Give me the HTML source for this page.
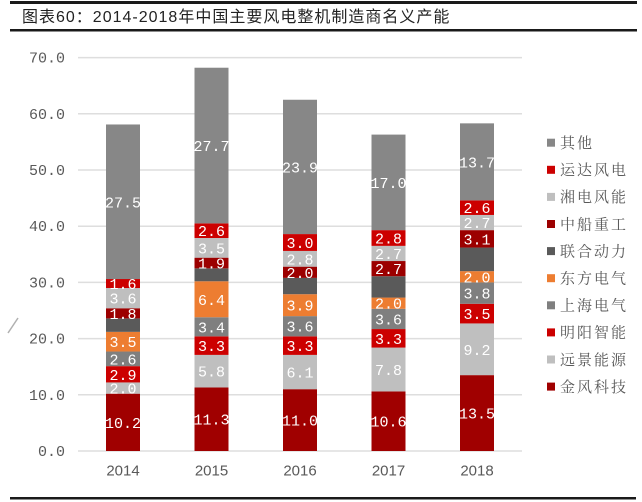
<!DOCTYPE html>
<html>
<head>
<meta charset="utf-8">
<style>
html,body{margin:0;padding:0;background:#fff;}
body{width:642px;height:502px;overflow:hidden;}
svg{display:block;}
.ttl{font-family:"Liberation Sans","Noto Sans CJK SC",sans-serif;font-size:16px;fill:#222;letter-spacing:1px;}
.yl{font-family:"Liberation Mono",monospace;font-size:15px;fill:#595959;}
.xl{font-family:"Liberation Sans",sans-serif;font-size:15px;fill:#595959;}
.lb{font-family:"Liberation Mono",monospace;font-size:15px;fill:#fff;}
.lg{font-family:"Liberation Sans","Noto Serif CJK SC",serif;font-size:15px;fill:#595959;letter-spacing:2px;}
</style>
</head>
<body>
<svg width="642" height="502" viewBox="0 0 642 502" xmlns="http://www.w3.org/2000/svg">
<!-- title -->
<rect x="10" y="1" width="627" height="3" fill="#1a1a1a"/>
<text class="ttl" x="22" y="22">图表60：2014-2018年中国主要风电整机制造商名义产能</text>
<rect x="10" y="29" width="627" height="2.5" fill="#1a1a1a"/>

<!-- gridlines -->
<g stroke="#dedede" stroke-width="1.5">
<line x1="78" y1="57.6" x2="522" y2="57.6"/>
<line x1="78" y1="113.8" x2="522" y2="113.8"/>
<line x1="78" y1="170" x2="522" y2="170"/>
<line x1="78" y1="226.2" x2="522" y2="226.2"/>
<line x1="78" y1="282.4" x2="522" y2="282.4"/>
<line x1="78" y1="338.6" x2="522" y2="338.6"/>
<line x1="78" y1="394.8" x2="522" y2="394.8"/>
<line x1="78" y1="451" x2="522" y2="451"/>
</g>

<!-- y labels -->
<g class="yl" text-anchor="end">
<text x="65" y="62.6">70.0</text>
<text x="65" y="118.8">60.0</text>
<text x="65" y="175">50.0</text>
<text x="65" y="231.2">40.0</text>
<text x="65" y="287.4">30.0</text>
<text x="65" y="343.6">20.0</text>
<text x="65" y="399.8">10.0</text>
<text x="65" y="456">0.0</text>
</g>

<!-- small mark -->
<line x1="8" y1="333" x2="18" y2="318" stroke="#b0b0b0" stroke-width="1.5"/>

<!-- 2014 -->
<g>
<rect x="106" y="393.68" width="34" height="57.32" fill="#a00000"/>
<rect x="106" y="382.44" width="34" height="11.24" fill="#bfbfbf"/>
<rect x="106" y="366.14" width="34" height="16.30" fill="#cc0000"/>
<rect x="106" y="351.53" width="34" height="14.61" fill="#7f7f7f"/>
<rect x="106" y="331.86" width="34" height="19.67" fill="#ed7d31"/>
<rect x="106" y="318.37" width="34" height="13.49" fill="#5a5a5a"/>
<rect x="106" y="308.25" width="34" height="10.12" fill="#9c0000"/>
<rect x="106" y="288.02" width="34" height="20.23" fill="#bfbfbf"/>
<rect x="106" y="279.03" width="34" height="8.99" fill="#cc0000"/>
<rect x="106" y="124.48" width="34" height="154.55" fill="#878787"/>
</g>
<!-- 2015 -->
<g>
<rect x="194.5" y="387.49" width="34" height="63.51" fill="#a00000"/>
<rect x="194.5" y="354.90" width="34" height="32.59" fill="#bfbfbf"/>
<rect x="194.5" y="336.35" width="34" height="18.55" fill="#cc0000"/>
<rect x="194.5" y="317.24" width="34" height="19.11" fill="#7f7f7f"/>
<rect x="194.5" y="281.28" width="34" height="35.96" fill="#ed7d31"/>
<rect x="194.5" y="268.35" width="34" height="12.93" fill="#5a5a5a"/>
<rect x="194.5" y="257.67" width="34" height="10.68" fill="#9c0000"/>
<rect x="194.5" y="238.00" width="34" height="19.67" fill="#bfbfbf"/>
<rect x="194.5" y="223.39" width="34" height="14.61" fill="#cc0000"/>
<rect x="194.5" y="67.72" width="34" height="155.67" fill="#878787"/>
</g>
<!-- 2016 -->
<g>
<rect x="283" y="389.18" width="34" height="61.82" fill="#a00000"/>
<rect x="283" y="354.90" width="34" height="34.28" fill="#bfbfbf"/>
<rect x="283" y="336.35" width="34" height="18.55" fill="#cc0000"/>
<rect x="283" y="316.12" width="34" height="20.23" fill="#7f7f7f"/>
<rect x="283" y="294.20" width="34" height="21.92" fill="#ed7d31"/>
<rect x="283" y="277.90" width="34" height="16.30" fill="#5a5a5a"/>
<rect x="283" y="266.66" width="34" height="11.24" fill="#9c0000"/>
<rect x="283" y="250.93" width="34" height="15.73" fill="#bfbfbf"/>
<rect x="283" y="234.07" width="34" height="16.86" fill="#cc0000"/>
<rect x="283" y="99.75" width="34" height="134.32" fill="#878787"/>
</g>
<!-- 2017 -->
<g>
<rect x="371.5" y="391.43" width="34" height="59.57" fill="#a00000"/>
<rect x="371.5" y="347.59" width="34" height="43.84" fill="#bfbfbf"/>
<rect x="371.5" y="329.05" width="34" height="18.54" fill="#cc0000"/>
<rect x="371.5" y="308.81" width="34" height="20.24" fill="#7f7f7f"/>
<rect x="371.5" y="297.57" width="34" height="11.24" fill="#ed7d31"/>
<rect x="371.5" y="276.22" width="34" height="21.35" fill="#5a5a5a"/>
<rect x="371.5" y="261.04" width="34" height="15.18" fill="#9c0000"/>
<rect x="371.5" y="245.87" width="34" height="15.17" fill="#bfbfbf"/>
<rect x="371.5" y="230.13" width="34" height="15.74" fill="#cc0000"/>
<rect x="371.5" y="134.59" width="34" height="95.54" fill="#878787"/>
</g>
<!-- 2018 -->
<g>
<rect x="460" y="375.13" width="34" height="75.87" fill="#a00000"/>
<rect x="460" y="323.43" width="34" height="51.70" fill="#bfbfbf"/>
<rect x="460" y="303.76" width="34" height="19.67" fill="#cc0000"/>
<rect x="460" y="282.40" width="34" height="21.36" fill="#7f7f7f"/>
<rect x="460" y="271.16" width="34" height="11.24" fill="#ed7d31"/>
<rect x="460" y="247.56" width="34" height="23.60" fill="#5a5a5a"/>
<rect x="460" y="230.13" width="34" height="17.43" fill="#9c0000"/>
<rect x="460" y="214.96" width="34" height="15.17" fill="#bfbfbf"/>
<rect x="460" y="200.35" width="34" height="14.61" fill="#cc0000"/>
<rect x="460" y="123.35" width="34" height="77.00" fill="#878787"/>
</g>

<!-- data labels -->
<g class="lb" text-anchor="middle">
<text x="123" y="427.8">10.2</text>
<text x="123" y="393.6">2.0</text>
<text x="123" y="379.8">2.9</text>
<text x="123" y="364.3">2.6</text>
<text x="123" y="347.2">3.5</text>
<text x="123" y="318.8">1.8</text>
<text x="123" y="303.6">3.6</text>
<text x="123" y="289">1.6</text>
<text x="123" y="207.3">27.5</text>

<text x="211.5" y="424.7">11.3</text>
<text x="211.5" y="376.7">5.8</text>
<text x="211.5" y="351.1">3.3</text>
<text x="211.5" y="332.3">3.4</text>
<text x="211.5" y="304.8">6.4</text>
<text x="211.5" y="268.5">1.9</text>
<text x="211.5" y="253.3">3.5</text>
<text x="211.5" y="236.2">2.6</text>
<text x="211.5" y="151.1">27.7</text>

<text x="300" y="425.6">11.0</text>
<text x="300" y="377.5">6.1</text>
<text x="300" y="351.1">3.3</text>
<text x="300" y="331.7">3.6</text>
<text x="300" y="310.7">3.9</text>
<text x="300" y="277.8">2.0</text>
<text x="300" y="264.3">2.8</text>
<text x="300" y="248">3.0</text>
<text x="300" y="172.4">23.9</text>

<text x="388.5" y="426.7">10.6</text>
<text x="388.5" y="375">7.8</text>
<text x="388.5" y="343.8">3.3</text>
<text x="388.5" y="324.4">3.6</text>
<text x="388.5" y="308.7">2.0</text>
<text x="388.5" y="274.1">2.7</text>
<text x="388.5" y="259">2.7</text>
<text x="388.5" y="243.5">2.8</text>
<text x="388.5" y="187.9">17.0</text>

<text x="477" y="418.6">13.5</text>
<text x="477" y="354.8">9.2</text>
<text x="477" y="319.1">3.5</text>
<text x="477" y="298.6">3.8</text>
<text x="477" y="282.3">2.0</text>
<text x="477" y="244.3">3.1</text>
<text x="477" y="228">2.7</text>
<text x="477" y="213.2">2.6</text>
<text x="477" y="167.4">13.7</text>
</g>

<!-- x labels -->
<g class="xl" text-anchor="middle">
<text x="123" y="475.5">2014</text>
<text x="211.5" y="475.5">2015</text>
<text x="300" y="475.5">2016</text>
<text x="388.5" y="475.5">2017</text>
<text x="477" y="475.5">2018</text>
</g>

<!-- legend -->
<g>
<rect x="547" y="138.7" width="8" height="8" fill="#878787"/>
<rect x="547" y="165.8" width="8" height="8" fill="#cc0000"/>
<rect x="547" y="192.9" width="8" height="8" fill="#bfbfbf"/>
<rect x="547" y="220.0" width="8" height="8" fill="#9c0000"/>
<rect x="547" y="247.1" width="8" height="8" fill="#5a5a5a"/>
<rect x="547" y="274.2" width="8" height="8" fill="#ed7d31"/>
<rect x="547" y="301.3" width="8" height="8" fill="#7f7f7f"/>
<rect x="547" y="328.4" width="8" height="8" fill="#cc0000"/>
<rect x="547" y="355.5" width="8" height="8" fill="#bfbfbf"/>
<rect x="547" y="382.6" width="8" height="8" fill="#a00000"/>
</g>
<g class="lg">
<text x="560" y="148">其他</text>
<text x="560" y="175.1">运达风电</text>
<text x="560" y="202.2">湘电风能</text>
<text x="560" y="229.3">中船重工</text>
<text x="560" y="256.4">联合动力</text>
<text x="560" y="283.5">东方电气</text>
<text x="560" y="310.6">上海电气</text>
<text x="560" y="337.7">明阳智能</text>
<text x="560" y="364.8">远景能源</text>
<text x="560" y="391.9">金风科技</text>
</g>

<!-- bottom line -->
<rect x="10" y="497" width="626" height="2.5" fill="#1a1a1a"/>
</svg>
</body>
</html>
